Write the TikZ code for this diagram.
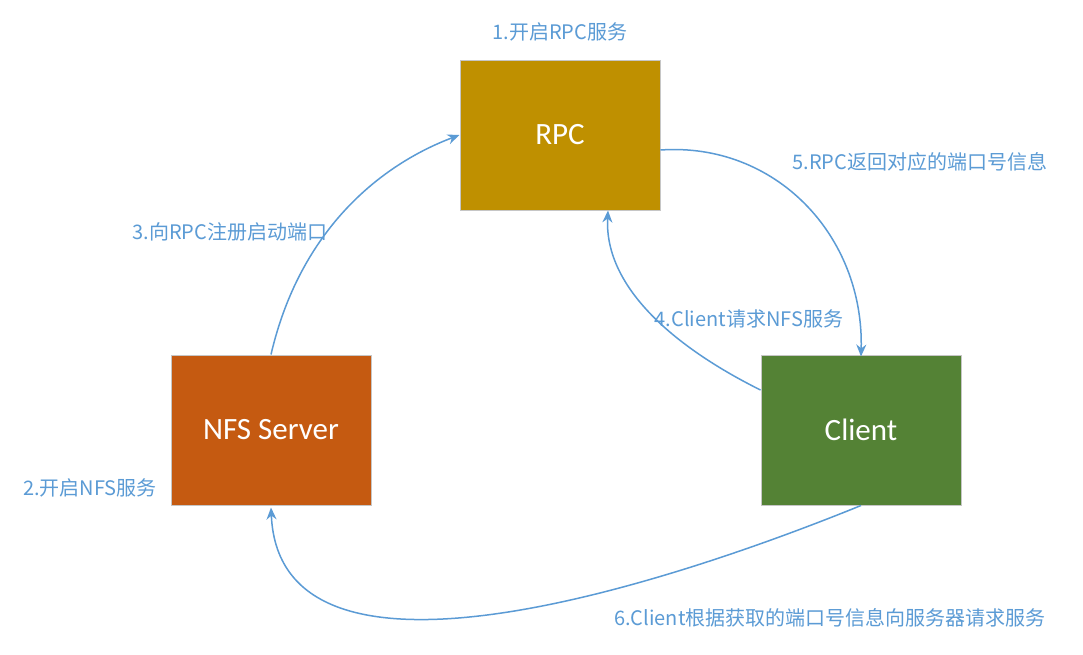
\documentclass[tikz,border=0pt]{standalone}
\usepackage{fontspec}
\setmainfont{Carlito}
\newfontfamily\cjk{Noto Sans CJK SC}
\usetikzlibrary{arrows.meta}
\definecolor{rpcfill}{HTML}{BF9000}
\definecolor{nfsfill}{HTML}{C55A11}
\definecolor{clifill}{HTML}{548235}
\definecolor{linkblue}{HTML}{5B9BD5}
\tikzset{
  box/.style={rectangle, draw=gray!45, line width=1pt, minimum width=200pt, minimum height=150pt,
    text=white, font=\fontsize{31}{36}\selectfont, inner sep=0pt},
  lbl/.style={text=linkblue, font=\cjk\fontsize{20}{24}\selectfont, inner sep=0pt},
  link/.style={draw=linkblue, line width=1.5pt, -{Stealth[length=12pt,width=10pt]}}
}
\begin{document}
\begin{tikzpicture}[x=1pt,y=-1pt]
\useasboundingbox[fill=white] (0,0) rectangle (1083,654);
\node[box, fill=rpcfill] (rpc) at (560,135) {RPC};
\node[box, fill=nfsfill] (nfs) at (271,430) {NFS Server};
\node[box, fill=clifill] (cli) at (861,430) {Client};

\node[lbl] (l1) at (560,32) {1.开启RPC服务};
\node[lbl] (l2) at (90,488) {2.开启NFS服务};
\node[lbl] (l3) at (230,232) {3.向RPC注册启动端口};
\node[lbl] (l4) at (749,319) {4.Client请求NFS服务};
\node[lbl] (l5) at (920,162) {5.RPC返回对应的端口号信息};
\node[lbl] (l6) at (830,618) {6.Client根据获取的端口号信息向服务器请求服务};

\draw[link] (nfs.north) .. controls (300,230) and (380,165) .. (rpc.west);
\draw[link] ([yshift=-15pt]rpc.east) .. controls (775,142) and (864,235) .. ([yshift=-2pt]cli.north);
\draw[link] ([yshift=40pt]cli.west) .. controls (680,350) and (604,290) .. ([xshift=48pt]rpc.south);
\draw[link] (cli.south) .. controls (690,575) and (280,718) .. ([yshift=-2pt]nfs.south);
\end{tikzpicture}
\end{document}
